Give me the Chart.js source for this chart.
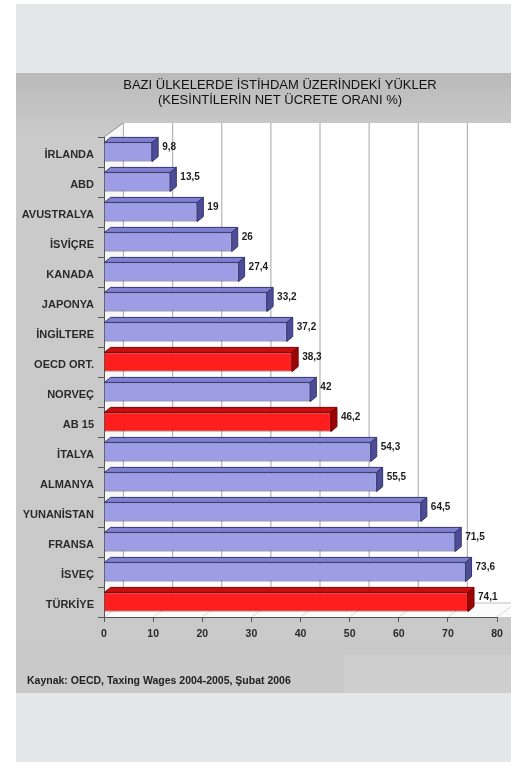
<!DOCTYPE html>
<html>
<head>
<meta charset="utf-8">
<script src="https://cdn.jsdelivr.net/npm/chart.js@4.4.1/dist/chart.umd.min.js"></script>
<style>
html,body{margin:0;padding:0;background:#fff;}
#wrap{position:relative;width:511px;height:763px;}
canvas{display:block;}
</style>
</head>
<body>
<div id="wrap"><canvas id="c" width="511" height="763"></canvas></div>
<script>
// ---- data ----
const categories = ['İRLANDA','ABD','AVUSTRALYA','İSVİÇRE','KANADA','JAPONYA','İNGİLTERE','OECD ORT.','NORVEÇ','AB 15','İTALYA','ALMANYA','YUNANİSTAN','FRANSA','İSVEÇ','TÜRKİYE'];
const values = [9.8,13.5,19,26,27.4,33.2,37.2,38.3,42,46.2,54.3,55.5,64.5,71.5,73.6,74.1];
const highlighted = ['OECD ORT.','AB 15','TÜRKİYE'];
const xTicks = [0,10,20,30,40,50,60,70,80];
const titleLines = ['BAZI ÜLKELERDE İSTİHDAM ÜZERİNDEKİ YÜKLER','(KESİNTİLERİN NET ÜCRETE ORANI %)'];
const sourceText = 'Kaynak: OECD, Taxing Wages 2004-2005, Şubat 2006';

// ---- styles ----
const BLUE = {front:'#9d9de6', border:'#34346e', top:'#8080d2', side:'#4c4c98'};
const RED = {front:'#ff1e1e', border:'#7a0000', top:'#c80e0e', side:'#9a0606'};
const isHi = i => highlighted.includes(categories[i]);
const WALL_DX = 19, WALL_DY = 14;   // depth of the 3D box
const BAR_DX = 6, BAR_DY = 5;       // depth of each bar

const fmt = v => String(v).replace('.', ',');

const decor = {
  id:'decor',
  beforeDraw(chart){
    const ctx = chart.ctx, W = chart.width, H = chart.height;
    const a = chart.chartArea, xs = chart.scales.x;
    ctx.save();
    ctx.fillStyle = '#ffffff'; ctx.fillRect(0,0,W,H);
    ctx.fillStyle = '#e6e7e9'; ctx.fillRect(16,4,W-16,758);
    const g = ctx.createLinearGradient(0,73,0,693);
    g.addColorStop(0,'#bababa'); g.addColorStop(0.1,'#cacaca'); g.addColorStop(1,'#c9c9c9');
    ctx.fillStyle = g; ctx.fillRect(16,73,W-16,620);
    ctx.fillStyle = '#cecece'; ctx.fillRect(344,655,W-344,38);

    const L = a.left, B = a.bottom, T = a.top;
    const backTop = T - WALL_DY, backBottom = B - WALL_DY;
    // back wall
    ctx.fillStyle = '#ffffff';
    ctx.fillRect(L + WALL_DX, backTop, W - (L + WALL_DX), backBottom - backTop);
    // left wall
    ctx.beginPath();
    ctx.moveTo(L, B); ctx.lineTo(L, T); ctx.lineTo(L + WALL_DX, backTop); ctx.lineTo(L + WALL_DX, backBottom); ctx.closePath();
    ctx.fillStyle = '#f7f7f7'; ctx.fill();
    // floor
    ctx.beginPath();
    ctx.moveTo(L, B); ctx.lineTo(W + 20, B); ctx.lineTo(W + 20, backBottom); ctx.lineTo(L + WALL_DX, backBottom); ctx.closePath();
    ctx.fillStyle = '#fbfbfb'; ctx.fill();
    // grid lines on the back wall and floor
    xTicks.forEach(v => {
      const px = xs.getPixelForValue(v);
      ctx.strokeStyle = '#b4b4b4'; ctx.lineWidth = 1.2;
      ctx.beginPath(); ctx.moveTo(px + WALL_DX + 0.5, backTop); ctx.lineTo(px + WALL_DX + 0.5, backBottom); ctx.stroke();
      ctx.strokeStyle = '#d8d8d8'; ctx.lineWidth = 1;
      ctx.beginPath(); ctx.moveTo(px, B); ctx.lineTo(px + WALL_DX, backBottom); ctx.stroke();
    });
    // left wall top edge
    ctx.strokeStyle = '#8a8a8a'; ctx.lineWidth = 1;
    ctx.beginPath(); ctx.moveTo(L, T); ctx.lineTo(L + WALL_DX, backTop); ctx.stroke();
    ctx.strokeStyle = '#c0c0c0';
    ctx.beginPath(); ctx.moveTo(L + WALL_DX, backBottom); ctx.lineTo(W, backBottom); ctx.stroke();

    // title
    ctx.fillStyle = '#111';
    ctx.font = '13px "Liberation Sans", Arial, sans-serif';
    ctx.textAlign = 'center'; ctx.textBaseline = 'middle';
    ctx.fillText(titleLines[0], 280, 85);
    ctx.fillText(titleLines[1], 280, 100);
    // source
    ctx.font = 'bold 10.5px "Liberation Sans", Arial, sans-serif';
    ctx.textAlign = 'left';
    ctx.fillStyle = '#222';
    ctx.fillText(sourceText, 27, 681);
    ctx.restore();
  },
  afterDatasetsDraw(chart){
    const ctx = chart.ctx;
    const meta = chart.getDatasetMeta(0);
    ctx.save();
    meta.data.forEach((bar, i) => {
      const c = isHi(i) ? RED : BLUE;
      const p = bar.getProps(['x','y','base','height'], true);
      const top = p.y - p.height/2, bot = p.y + p.height/2;
      const x0 = p.base, x1 = p.x;
      ctx.lineWidth = 1; ctx.strokeStyle = c.border; ctx.lineJoin = 'round';
      // top face
      ctx.beginPath();
      ctx.moveTo(x0, top); ctx.lineTo(x0 + BAR_DX, top - BAR_DY); ctx.lineTo(x1 + BAR_DX, top - BAR_DY); ctx.lineTo(x1, top); ctx.closePath();
      ctx.fillStyle = c.top; ctx.fill(); ctx.stroke();
      // side face
      ctx.beginPath();
      ctx.moveTo(x1, top); ctx.lineTo(x1 + BAR_DX, top - BAR_DY); ctx.lineTo(x1 + BAR_DX, bot - BAR_DY); ctx.lineTo(x1, bot); ctx.closePath();
      ctx.fillStyle = c.side; ctx.fill(); ctx.stroke();
      // value label
      ctx.fillStyle = '#1e1e1e';
      ctx.font = 'bold 10px "Liberation Sans", Arial, sans-serif';
      ctx.textAlign = 'left'; ctx.textBaseline = 'middle';
      ctx.fillText(fmt(values[i]), x1 + BAR_DX + 4, p.y - 5);
    });
    ctx.restore();
  }
};

new Chart(document.getElementById('c'), {
  type:'bar',
  data:{
    labels: categories,
    datasets:[{
      data: values,
      backgroundColor: values.map((v,i) => isHi(i) ? RED.front : BLUE.front),
      borderColor: values.map((v,i) => isHi(i) ? RED.border : BLUE.border),
      borderWidth: 1,
      barPercentage: 0.64,
      categoryPercentage: 1
    }]
  },
  options:{
    indexAxis:'y',
    responsive:false,
    animation:false,
    events:[],
    layout:{padding:{top:137,right:14,bottom:106,left:0}},
    plugins:{legend:{display:false},title:{display:false},tooltip:{enabled:false}},
    scales:{
      x:{
        min:0,max:80,
        afterFit(s){ s.height = 40; },
        afterBuildTicks(s){ s.ticks = xTicks.map(v => ({value:v})); },
        grid:{drawOnChartArea:false, drawTicks:true, tickLength:5, color:'#555'},
        border:{color:'#555', width:1},
        ticks:{color:'#2a2a2a', font:{family:'"Liberation Sans", Arial, sans-serif', size:10.5, weight:'bold'}, padding:6, maxRotation:0}
      },
      y:{
        afterFit(s){ s.width = 104; },
        grid:{drawOnChartArea:false, drawTicks:true, tickLength:6, color:'#555', offset:true},
        border:{color:'#555', width:1},
        ticks:{color:'#2a2a2a', font:{family:'"Liberation Sans", Arial, sans-serif', size:11, weight:'bold'}, padding:4, labelOffset:3, autoSkip:false}
      }
    }
  },
  plugins:[decor]
});
</script>
</body>
</html>
